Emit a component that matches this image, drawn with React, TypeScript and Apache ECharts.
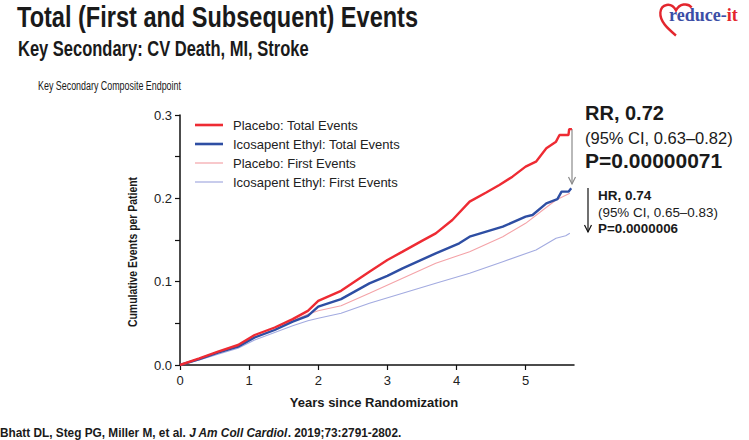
import React, { useEffect, useRef } from "react";
import * as echarts from "echarts";

const seriesNames = [
  "Placebo: Total Events",
  "Icosapent Ethyl: Total Events",
  "Placebo: First Events",
  "Icosapent Ethyl: First Events",
];

const placeboTotal = [
  [0, 0], [0.28, 0.008], [0.55, 0.016], [0.84, 0.024], [1.08, 0.036], [1.37, 0.045],
  [1.63, 0.055], [1.85, 0.065], [2.0, 0.077], [2.33, 0.089], [2.74, 0.112], [3.0, 0.126],
  [3.22, 0.136], [3.5, 0.149], [3.7, 0.158], [3.94, 0.174], [4.19, 0.196], [4.43, 0.207],
  [4.62, 0.216], [4.81, 0.226], [5.0, 0.238], [5.15, 0.244], [5.3, 0.26], [5.44, 0.268],
  [5.49, 0.276], [5.62, 0.276], [5.63, 0.283], [5.67, 0.283],
];

const icosapentTotal = [
  [0, 0], [0.28, 0.007], [0.55, 0.015], [0.84, 0.022], [1.08, 0.033], [1.37, 0.042],
  [1.63, 0.052], [1.85, 0.059], [2.0, 0.07], [2.33, 0.079], [2.74, 0.098], [3.0, 0.107],
  [3.22, 0.116], [3.7, 0.134], [4.04, 0.146], [4.19, 0.154], [4.67, 0.166], [5.0, 0.178],
  [5.1, 0.18], [5.3, 0.194], [5.46, 0.199], [5.52, 0.208], [5.62, 0.208], [5.66, 0.212],
];

const placeboFirst = [
  [0, 0], [0.28, 0.008], [0.55, 0.016], [0.84, 0.023], [1.08, 0.034], [1.37, 0.043],
  [1.63, 0.053], [1.85, 0.061], [2.0, 0.065], [2.33, 0.071], [2.74, 0.086], [3.22, 0.104],
  [3.7, 0.122], [4.19, 0.136], [4.67, 0.154], [5.0, 0.17], [5.25, 0.186], [5.44, 0.198],
  [5.64, 0.206],
];

const icosapentFirst = [
  [0, 0], [0.28, 0.006], [0.55, 0.013], [0.84, 0.02], [1.08, 0.03], [1.37, 0.039],
  [1.63, 0.047], [1.85, 0.053], [2.0, 0.056], [2.33, 0.062], [2.74, 0.074], [3.22, 0.086],
  [3.7, 0.098], [4.19, 0.11], [4.67, 0.124], [5.15, 0.138], [5.44, 0.152], [5.58, 0.155],
  [5.64, 0.158],
];

const xTicks = [0, 1, 2, 3, 4, 5];
const seriesColors = ["#ee2b33", "#2e4ea3", "#f4a3a8", "#a3abe0"];
const seriesWidths = [2.4, 2.4, 1.1, 1.1];
const legendIcons = [
  "path://M0,0H28V2.6H0Z",
  "path://M0,0H28V2.6H0Z",
  "path://M0,0H28V1.2H0Z",
  "path://M0,0H28V1.2H0Z",
];

const heartPath =
  "M50 96 C 28 78, 2 58, 4 32 C 6 8, 36 2, 50 26 C 60 8, 84 4, 96 18";

const FONT = "Liberation Sans, Arial, sans-serif";

export default function App() {
  const ref = useRef<HTMLDivElement>(null);
  useEffect(() => {
    if (!ref.current) return;
    try {
      echarts.graphic.registerShape("heart", echarts.graphic.extendPath(heartPath, {}));
    } catch (e) {}
    const chart = echarts.init(ref.current, null, { renderer: "svg" });
    const dataList = [placeboTotal, icosapentTotal, placeboFirst, icosapentFirst];
    chart.setOption({
      animation: false,
      backgroundColor: "#ffffff",
      grid: { left: 180, top: 115, width: 394, height: 250, containLabel: false },
      legend: {
        orient: "vertical",
        left: 190,
        top: 113,
        itemWidth: 28,
        itemHeight: 14,
        itemGap: 5,
        data: seriesNames.map((name, i) => ({ name, icon: legendIcons[i] })),
        textStyle: {
          fontSize: 13,
          lineHeight: 14,
          color: "#222",
          fontFamily: FONT,
          padding: [0, 0, 0, 5],
        },
      },
      xAxis: {
        type: "value",
        min: 0,
        max: 5.7,
        interval: 1,
        splitLine: { show: false },
        axisLine: { lineStyle: { color: "#111", width: 1.5 } },
        axisTick: { length: 5, lineStyle: { color: "#111", width: 1.2 }, customValues: xTicks },
        axisLabel: {
          customValues: xTicks,
          fontSize: 13,
          color: "#222",
          margin: 9,
          fontFamily: FONT,
        },
      },
      yAxis: {
        type: "value",
        min: 0,
        max: 0.3,
        interval: 0.05,
        splitLine: { show: false },
        axisLine: { show: true, lineStyle: { color: "#111", width: 1.5 } },
        axisTick: { show: true, length: 5, lineStyle: { color: "#111", width: 1.2 } },
        axisLabel: {
          fontSize: 13,
          color: "#222",
          margin: 8,
          fontFamily: FONT,
          formatter: (v: number) =>
            Math.abs(v * 10 - Math.round(v * 10)) < 1e-6 ? v.toFixed(1) : "",
        },
      },
      series: seriesNames.map((name, i) => ({
        name,
        type: "line",
        data: dataList[i],
        symbol: "none",
        color: seriesColors[i],
        lineStyle: { color: seriesColors[i], width: seriesWidths[i] },
        z: 10 - i,
      })).reverse(),
      graphic: [
        {
          type: "text", x: 17, y: 17, scaleX: 0.785,
          style: {
            text: "Total (First and Subsequent) Events",
            fontSize: 30, fontWeight: "bold", fontFamily: FONT,
            fill: "#1a1a1a", verticalAlign: "middle",
          },
        },
        {
          type: "text", x: 18, y: 48, scaleX: 0.75,
          style: {
            text: "Key Secondary: CV Death, MI, Stroke",
            fontSize: 22, fontWeight: "bold", fontFamily: FONT,
            fill: "#1a1a1a", verticalAlign: "middle",
          },
        },
        {
          type: "text", x: 38, y: 85, scaleX: 0.66,
          style: {
            text: "Key Secondary Composite Endpoint",
            fontSize: 13.5, fontFamily: FONT,
            fill: "#1a1a1a", verticalAlign: "middle",
          },
        },
        {
          type: "text", x: 133, y: 252, rotation: Math.PI / 2, scaleX: 0.87,
          style: {
            text: "Cumulative Events per Patient",
            fontSize: 12, fontWeight: "bold", fontFamily: FONT,
            fill: "#1a1a1a", align: "center", verticalAlign: "middle",
          },
        },
        {
          type: "text", x: 374, y: 402,
          style: {
            text: "Years since Randomization",
            fontSize: 13, fontWeight: "bold", fontFamily: FONT,
            fill: "#1a1a1a", align: "center", verticalAlign: "middle",
          },
        },
        {
          type: "text", x: 0, y: 433, scaleX: 0.985,
          style: {
            text: "{a|Bhatt DL, Steg PG, Miller M, et al. }{b|J Am Coll Cardiol}{a|. 2019;73:2791-2802.}",
            verticalAlign: "middle",
            rich: {
              a: { fontSize: 12, fontWeight: "bold", fontFamily: FONT, fill: "#1a1a1a" },
              b: { fontSize: 12, fontWeight: "bold", fontStyle: "italic", fontFamily: FONT, fill: "#1a1a1a" },
            },
          },
        },
        {
          type: "text", x: 585, y: 113,
          style: { text: "RR, 0.72", fontSize: 20, fontWeight: "bold", fontFamily: FONT, fill: "#1a1a1a", verticalAlign: "middle" },
        },
        {
          type: "text", x: 585, y: 138,
          style: { text: "(95% CI, 0.63–0.82)", fontSize: 16.5, fontFamily: FONT, fill: "#1a1a1a", verticalAlign: "middle" },
        },
        {
          type: "text", x: 585, y: 160,
          style: { text: "P=0.00000071", fontSize: 21, fontWeight: "bold", fontFamily: FONT, fill: "#1a1a1a", verticalAlign: "middle" },
        },
        {
          type: "text", x: 598, y: 195,
          style: { text: "HR, 0.74", fontSize: 13.5, fontWeight: "bold", fontFamily: FONT, fill: "#1a1a1a", verticalAlign: "middle" },
        },
        {
          type: "text", x: 598, y: 212,
          style: { text: "(95% CI, 0.65–0.83)", fontSize: 13.4, fontFamily: FONT, fill: "#1a1a1a", verticalAlign: "middle" },
        },
        {
          type: "text", x: 598, y: 228,
          style: { text: "P=0.0000006", fontSize: 13.4, fontWeight: "bold", fontFamily: FONT, fill: "#1a1a1a", verticalAlign: "middle" },
        },
        {
          type: "line", shape: { x1: 572, y1: 129, x2: 572, y2: 184 },
          style: { stroke: "#8a8a8a", lineWidth: 1.2 },
        },
        {
          type: "polyline", shape: { points: [[568.5, 177], [572, 184], [575.5, 177]] },
          style: { stroke: "#8a8a8a", lineWidth: 1.2, fill: null },
        },
        {
          type: "line", shape: { x1: 588, y1: 188, x2: 588, y2: 232 },
          style: { stroke: "#111", lineWidth: 1.2 },
        },
        {
          type: "polyline", shape: { points: [[584.5, 225], [588, 232], [591.5, 225]] },
          style: { stroke: "#111", lineWidth: 1.2, fill: null },
        },
        {
          type: "heart", x: 659, y: 1, scaleX: 0.34, scaleY: 0.36,
          style: { stroke: "#e3262e", lineWidth: 7, fill: null },
        },
        {
          type: "text", x: 669, y: 15,
          style: {
            text: "{b|reduce-}{r|it}",
            verticalAlign: "middle",
            rich: {
              b: { fontSize: 18, fontWeight: "bold", fontFamily: "Liberation Serif, Times New Roman, serif", fill: "#3b4ea6" },
              r: { fontSize: 18, fontWeight: "bold", fontFamily: "Liberation Serif, Times New Roman, serif", fill: "#e3262e" },
            },
          },
        },
      ],
    });
    return () => chart.dispose();
  }, []);
  return (
    <div
      ref={ref}
      style={{ position: "fixed", left: 0, top: 0, width: 749, height: 440 }}
    />
  );
}
